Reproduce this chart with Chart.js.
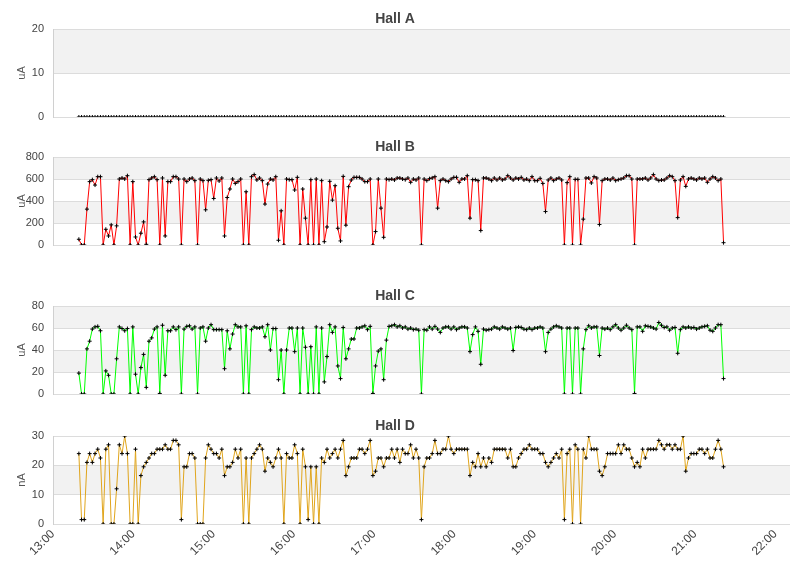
<!DOCTYPE html>
<html>
<head>
<meta charset="utf-8">
<title>Halls</title>
<script src="https://cdn.jsdelivr.net/npm/chart.js@4.4.1/dist/chart.umd.min.js"></script>
<style>
  body { margin: 0; background: #fff; }
  #wrap { position: relative; width: 811px; height: 578px; overflow: hidden; }
  .panel { position: absolute; left: 0; width: 811px; }
  .panel canvas { display: block; }
</style>
</head>
<body>
<div id="wrap">
  <div class="panel" style="top:0px"><canvas id="hallA" width="811" height="134"></canvas></div>
  <div class="panel" style="top:128px"><canvas id="hallB" width="811" height="149"></canvas></div>
  <div class="panel" style="top:277px"><canvas id="hallC" width="811" height="134"></canvas></div>
  <div class="panel" style="top:407px"><canvas id="hallD" width="811" height="171"></canvas></div>
</div>
<script>
// samples every ~2 minutes starting 13:19:20
const START_SEC = 13 * 3600 + 19 * 60 + 20;
const STEP_SEC = 121;

const hallA = [
  0, 0, 0, 0, 0, 0, 0, 0, 0, 0, 0, 0, 0, 0, 0, 0, 0, 0, 0, 0, 0, 0, 0, 0,
  0, 0, 0, 0, 0, 0, 0, 0, 0, 0, 0, 0, 0, 0, 0, 0, 0, 0, 0, 0, 0, 0, 0, 0,
  0, 0, 0, 0, 0, 0, 0, 0, 0, 0, 0, 0, 0, 0, 0, 0, 0, 0, 0, 0, 0, 0, 0, 0,
  0, 0, 0, 0, 0, 0, 0, 0, 0, 0, 0, 0, 0, 0, 0, 0, 0, 0, 0, 0, 0, 0, 0, 0,
  0, 0, 0, 0, 0, 0, 0, 0, 0, 0, 0, 0, 0, 0, 0, 0, 0, 0, 0, 0, 0, 0, 0, 0,
  0, 0, 0, 0, 0, 0, 0, 0, 0, 0, 0, 0, 0, 0, 0, 0, 0, 0, 0, 0, 0, 0, 0, 0,
  0, 0, 0, 0, 0, 0, 0, 0, 0, 0, 0, 0, 0, 0, 0, 0, 0, 0, 0, 0, 0, 0, 0, 0,
  0, 0, 0, 0, 0, 0, 0, 0, 0, 0, 0, 0, 0, 0, 0, 0, 0, 0, 0, 0, 0, 0, 0, 0,
  0, 0, 0, 0, 0, 0, 0, 0, 0, 0, 0, 0, 0, 0, 0, 0, 0, 0, 0, 0, 0, 0, 0, 0,
  0, 0, 0, 0, 0, 0, 0, 0, 0, 0, 0, 0, 0, 0, 0, 0, 0, 0, 0, 0, 0, 0, 0, 0
];

const hallB = [
  52, 0, 0, 326, 576, 594, 545, 621, 621, 0,
  143, 82, 183, 0, 174, 600, 609, 600, 630, 0,
  576, 73, 0, 107, 210, 6, 594, 609, 621, 594,
  0, 609, 82, 576, 576, 621, 621, 600, 0, 600,
  576, 600, 609, 585, 0, 600, 585, 320, 588, 594,
  423, 609, 582, 609, 82, 432, 509, 600, 560, 576,
  600, 0, 484, 0, 621, 640, 591, 609, 585, 372,
  554, 600, 591, 621, 43, 311, 0, 600, 594, 594,
  500, 615, 0, 509, 244, 0, 594, 0, 600, 0,
  585, 30, 164, 579, 408, 539, 152, 37, 624, 180,
  530, 591, 615, 615, 615, 600, 576, 576, 600, 0,
  122, 600, 335, 70, 600, 594, 600, 591, 609, 609,
  600, 594, 609, 570, 600, 591, 609, 0, 600, 585,
  603, 610, 621, 335, 585, 600, 585, 576, 600, 615,
  615, 570, 600, 600, 630, 244, 594, 594, 585, 131,
  609, 609, 600, 585, 609, 591, 609, 591, 600, 630,
  609, 591, 609, 600, 615, 591, 600, 585, 621, 585,
  585, 606, 560, 304, 591, 609, 585, 600, 609, 591,
  0, 567, 621, 0, 597, 597, 0, 235, 609, 609,
  564, 621, 609, 186, 585, 600, 600, 591, 609, 585,
  594, 600, 609, 630, 630, 600, 0, 600, 600, 600,
  609, 591, 609, 640, 600, 585, 591, 591, 609, 630,
  621, 585, 249, 591, 621, 533, 600, 609, 600, 591,
  609, 600, 609, 570, 600, 621, 609, 585, 600, 21
];

const hallC = [
  19, 0, 0, 41, 48, 59, 61, 61.5, 57.5, 0,
  21, 17, 0, 0, 32, 61, 59.5, 57.5, 59.5, 0,
  61, 18, 0, 24, 36, 6, 48, 51, 59, 61,
  0.5, 62.5, 17, 57.5, 57.5, 61, 58.5, 61, 0, 59,
  61.5, 62, 59, 61, 0, 60, 61, 48, 60, 63,
  58.5, 58.5, 58.5, 58.5, 23, 57.5, 41, 54.5, 63, 61,
  61, 0, 62, 0, 58.5, 61, 60, 60, 61, 52,
  63, 40, 59.5, 59.5, 13, 40, 0, 40, 60, 60,
  38.5, 60, 0, 60, 42.5, 0, 43, 0, 61, 0,
  60, 11, 34, 63, 56, 61, 25.5, 14, 60.5, 32,
  41, 50, 50, 60, 60, 61, 62, 58.5, 61.5, 0.5,
  25.5, 39, 41, 13, 49, 61.5, 62, 63, 61, 62,
  60, 61, 59, 60, 58.5, 59, 58, 0, 58.5, 58,
  61, 59, 61.5, 59, 56, 60, 61, 61, 59, 61,
  58.5, 60, 61, 61, 60, 38.5, 54, 61, 57, 27,
  59, 58, 58.5, 59, 61, 60, 59, 61, 60, 59,
  60, 39.5, 60.5, 61, 60.5, 59, 58.5, 60, 58.5, 60,
  60, 61, 60, 38.5, 56, 59, 61, 62, 61, 60,
  0, 60, 60, 0, 60, 60, 0, 41, 58.5, 62,
  60, 61, 61, 35, 60, 59, 60, 58.5, 61, 63,
  60, 58, 60, 62.5, 60, 58.5, 0.5, 61, 61, 57,
  62, 61.5, 61, 60, 59, 65, 62.5, 60.5, 61, 58,
  60, 60.5, 37, 58.5, 61, 60, 61, 60, 60.5, 59,
  60, 61, 61.5, 62, 58, 57, 60, 63, 63, 14
];

const hallD = [
  24, 1.5, 1.5, 21, 24, 21, 24, 25.5, 22.5, 0,
  25.5, 27, 0, 0, 12, 27, 24, 30, 24, 0,
  0, 25.5, 0, 16.5, 19.5, 21, 22.5, 24, 24, 25.5,
  25.5, 25.5, 27, 25.5, 25.5, 28.5, 28.5, 27, 1.5, 19.5,
  19.5, 24, 24, 22.5, 0, 0, 0, 22.5, 27, 25.5,
  24, 24, 22.5, 25.5, 16.5, 19.5, 19.5, 21, 25.5, 22.5,
  25.5, 0, 22.5, 0, 22.5, 24, 25.5, 27, 25.5, 18,
  22.5, 21, 19.5, 22.5, 25.5, 22.5, 0, 24, 22.5, 22.5,
  27, 24, 0, 25.5, 19.5, 1.5, 19.5, 0, 19.5, 0,
  22.5, 21, 25.5, 22.5, 24, 25.5, 22.5, 25.5, 28.5, 16.5,
  19.5, 22.5, 22.5, 22.5, 25.5, 25.5, 24, 25.5, 28.5, 16.5,
  18, 22.5, 22.5, 19.5, 22.5, 22.5, 25.5, 22.5, 25.5, 21,
  25.5, 24, 24, 27, 22.5, 25.5, 22.5, 1.5, 19.5, 22.5,
  22.5, 24, 28.5, 24, 24, 25.5, 25.5, 30, 25.5, 24,
  25.5, 25.5, 25.5, 25.5, 25.5, 16.5, 21, 19.5, 24, 19.5,
  22.5, 19.5, 22.5, 21, 25.5, 25.5, 25.5, 25.5, 25.5, 22.5,
  25.5, 19.5, 19.5, 22.5, 24, 25.5, 25.5, 27, 25.5, 25.5,
  25.5, 24, 24, 21, 19.5, 21, 22.5, 24, 22.5, 25.5,
  1.5, 24, 25.5, 0, 27, 25.5, 0, 25.5, 22.5, 30,
  25.5, 25.5, 25.5, 18, 16.5, 19.5, 24, 24, 24, 24,
  27, 24, 27, 25.5, 25.5, 22.5, 19.5, 21, 19.5, 25.5,
  22.5, 25.5, 25.5, 25.5, 25.5, 28.5, 27, 25.5, 27, 27,
  25.5, 27, 25.5, 25.5, 30, 18, 22.5, 24, 24, 24,
  25.5, 25.5, 24, 25.5, 22.5, 22.5, 25.5, 28.5, 25.5, 19.5
];

// x axis in minutes after midnight: 13:00 .. ~22:11
const X_MIN = 13 * 60;
const X_MAX = 22 * 60 + 11;
const times = hallB.map((_, i) => (START_SEC + i * STEP_SEC) / 60);

Chart.defaults.font.family = "'Liberation Sans', Arial, sans-serif";
Chart.defaults.font.size = 11;
Chart.defaults.color = '#444';

// grey bands between every other pair of y ticks
const bandPlugin = {
    id: 'bands',
    beforeDraw(chart) {
        const { ctx, chartArea, scales: { y } } = chart;
        ctx.save();
        ctx.fillStyle = '#f2f2f2';
        for (let k = 1; k < y.ticks.length - 1; k += 2) {
            const top = y.getPixelForValue(y.ticks[k + 1].value);
            const bot = y.getPixelForValue(y.ticks[k].value);
            ctx.fillRect(chartArea.left, top, chartArea.right - chartArea.left, bot - top);
        }
        ctx.restore();
    }
};

function hourLabel(v) {
    if (v % 60 !== 0) return '';
    return String(Math.floor(v / 60)).padStart(2, '0') + ':00';
}

function makePanel(id, title, unit, values, color, yMax, yStep, axisH, showX, showLine) {
    const ctx = document.getElementById(id).getContext('2d');
    return new Chart(ctx, {
        type: 'line',
        data: {
            datasets: [{
                data: values.map((v, i) => ({ x: times[i], y: v })),
                borderColor: color,
                borderWidth: 1,
                showLine: showLine,
                tension: 0,
                clip: 0,
                pointStyle: 'cross',
                pointRadius: 2,
                pointBorderColor: '#000',
                pointBackgroundColor: '#000',
                pointBorderWidth: 1
            }]
        },
        options: {
            responsive: false,
            animation: false,
            events: [],
            layout: { padding: { left: 0, right: 21, top: 0, bottom: 0 } },
            plugins: {
                legend: { display: false },
                tooltip: { enabled: false },
                title: {
                    display: true,
                    text: title,
                    color: '#444',
                    font: { size: 14, weight: 'bold' },
                    padding: { top: 11, bottom: 1.2 }
                }
            },
            scales: {
                x: {
                    type: 'linear',
                    min: X_MIN,
                    max: X_MAX,
                    afterFit: s => { s.height = axisH; },
                    grid: { display: false, drawTicks: false },
                    border: { display: false },
                    ticks: {
                        display: showX,
                        stepSize: 60,
                        includeBounds: false,
                        autoSkip: false,
                        minRotation: 45,
                        maxRotation: 45,
                        padding: 3,
                        color: '#444',
                        font: { size: 12 },
                        callback: hourLabel
                    }
                },
                y: {
                    min: 0,
                    max: yMax,
                    afterFit: s => { s.width = 53; },
                    grid: { color: '#dcdcdc', drawTicks: false },
                    border: { color: '#d0d0d0' },
                    ticks: { stepSize: yStep, padding: 9, color: '#444' },
                    title: {
                        display: true,
                        text: unit,
                        color: '#555',
                        font: { size: 11 },
                        padding: { top: 15, bottom: 0 }
                    }
                }
            }
        },
        plugins: [bandPlugin]
    });
}

makePanel('hallA', 'Hall A', 'uA', hallA, '#000000', 20, 10, 17, false, false);
makePanel('hallB', 'Hall B', 'uA', hallB, '#ff0000', 800, 200, 32, false, true);
makePanel('hallC', 'Hall C', 'uA', hallC, '#00ff00', 80, 20, 17, false, true);
makePanel('hallD', 'Hall D', 'nA', hallD, '#e0a51c', 30, 10, 54, true, true);
</script>
</body>
</html>
